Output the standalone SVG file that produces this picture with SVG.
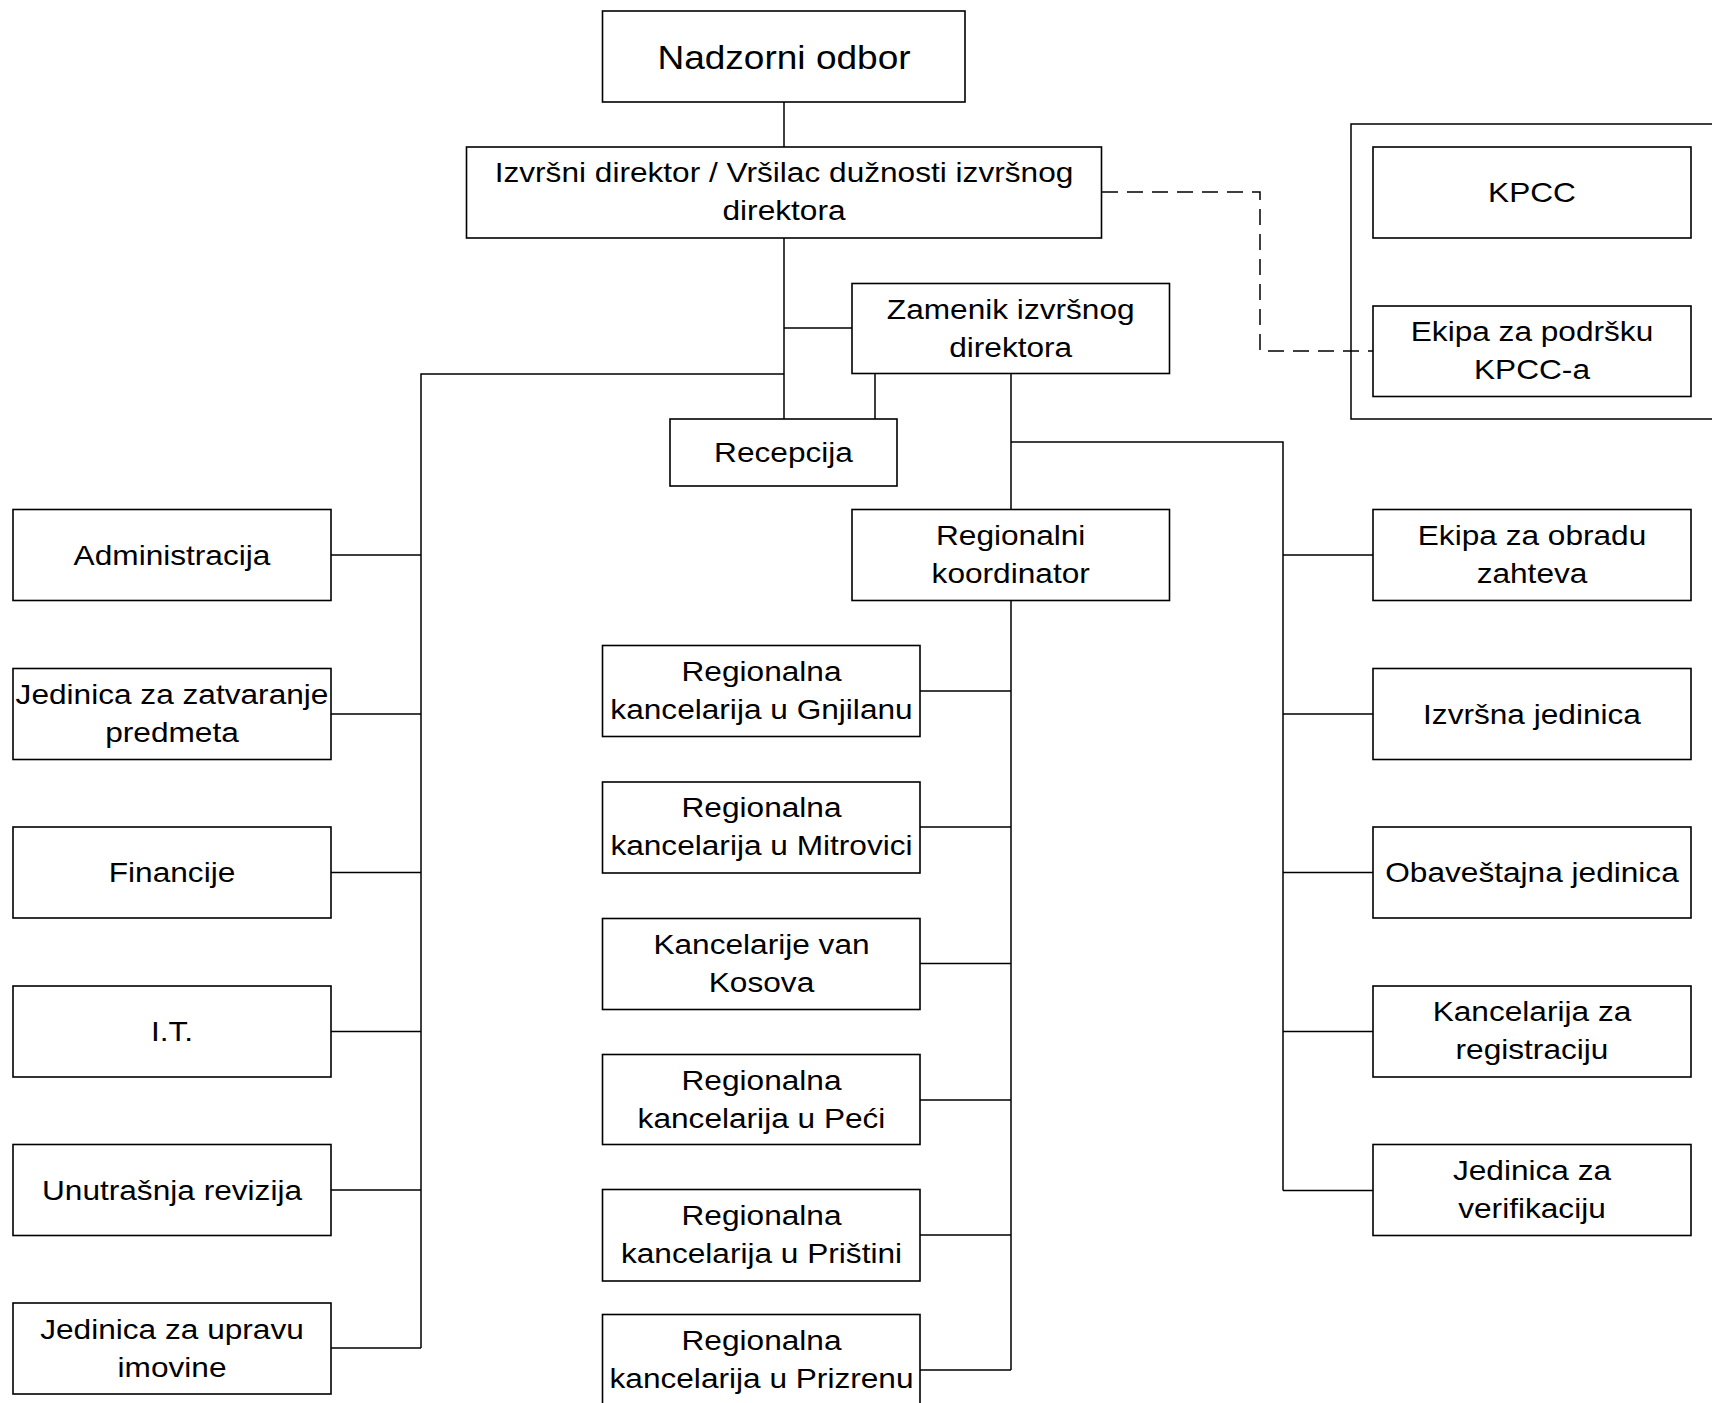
<svg xmlns="http://www.w3.org/2000/svg" width="1712" height="1403" viewBox="0 0 1712 1403">
<style>
.b{fill:#fff;stroke:#000;stroke-width:1.6}
.t{font-family:"Liberation Sans",Arial,sans-serif;font-size:27.5px;text-anchor:middle;fill:#000}
.tl{font-family:"Liberation Sans",Arial,sans-serif;font-size:32.5px;text-anchor:middle;fill:#000}
.c{fill:none;stroke:#000;stroke-width:1.5}
.d{fill:none;stroke:#000;stroke-width:1.5;stroke-dasharray:16 9}
</style>
<rect width="1712" height="1403" fill="#fff"/>
<g id="connectors">
<path class="c" d="M784 102V147M784 238V419M784 328H852M784 374H421V1348M875 373V419"/>
<path class="c" d="M331 555H421M331 714H421M331 872.5H421M331 1031.5H421M331 1190H421M331 1348H421"/>
<path class="c" d="M1011 373V509M1011 442H1283V1190.5M1283 555H1373M1283 714H1373M1283 872.5H1373M1283 1031.5H1373M1283 1190.5H1373"/>
<path class="c" d="M1011 601V1370M920 691H1011M920 827H1011M920 963.5H1011M920 1100H1011M920 1235H1011M920 1370H1011"/>
<path class="d" d="M1102 192H1260V351H1373"/>
</g>
<g id="kpcc-container"><path class="c" d="M1720 124H1351V419H1720"/></g>
<g id="nadzorni"><rect class="b" x="602.5" y="11" width="362.5" height="91"/><text class="tl" transform="translate(784 68.5) scale(1.14 1)">Nadzorni odbor</text></g>
<g id="izvrsni"><rect class="b" x="466.5" y="147" width="635" height="91"/><text class="t" transform="translate(784 182) scale(1.15 1)">Izvršni direktor / Vršilac dužnosti izvršnog</text><text class="t" transform="translate(784 220) scale(1.15 1)">direktora</text></g>
<g id="zamenik"><rect class="b" x="852" y="283.5" width="317.5" height="90"/><text class="t" transform="translate(1010.7 318.5) scale(1.15 1)">Zamenik izvršnog</text><text class="t" transform="translate(1010.7 356.5) scale(1.15 1)">direktora</text></g>
<g id="recepcija"><rect class="b" x="670" y="419" width="227" height="67"/><text class="t" transform="translate(783.5 462) scale(1.15 1)">Recepcija</text></g>
<g id="kpcc"><rect class="b" x="1373" y="147" width="318" height="91"/><text class="t" transform="translate(1532 202) scale(1.15 1)">KPCC</text></g>
<g id="ekipa-podrska"><rect class="b" x="1373" y="306" width="318" height="90.5"/><text class="t" transform="translate(1532 341) scale(1.15 1)">Ekipa za podršku</text><text class="t" transform="translate(1532 379) scale(1.15 1)">KPCC-a</text></g>
<g id="regionalni"><rect class="b" x="852" y="509.5" width="317.5" height="91"/><text class="t" transform="translate(1010.7 544.5) scale(1.15 1)">Regionalni</text><text class="t" transform="translate(1010.7 583) scale(1.15 1)">koordinator</text></g>
<g id="administracija"><rect class="b" x="13" y="509.5" width="318" height="91"/><text class="t" transform="translate(172 564.5) scale(1.15 1)">Administracija</text></g>
<g id="zatvaranje"><rect class="b" x="13" y="668.5" width="318" height="91"/><text class="t" transform="translate(172 704) scale(1.15 1)">Jedinica za zatvaranje</text><text class="t" transform="translate(172 742) scale(1.15 1)">predmeta</text></g>
<g id="financije"><rect class="b" x="13" y="827" width="318" height="91"/><text class="t" transform="translate(172 882) scale(1.15 1)">Financije</text></g>
<g id="it"><rect class="b" x="13" y="986" width="318" height="91"/><text class="t" transform="translate(172 1041) scale(1.15 1)">I.T.</text></g>
<g id="revizija"><rect class="b" x="13" y="1144.5" width="318" height="91"/><text class="t" transform="translate(172 1199.5) scale(1.15 1)">Unutrašnja revizija</text></g>
<g id="imovina"><rect class="b" x="13" y="1303" width="318" height="91"/><text class="t" transform="translate(172 1338.5) scale(1.15 1)">Jedinica za upravu</text><text class="t" transform="translate(172 1376.5) scale(1.15 1)">imovine</text></g>
<g id="gnjilane"><rect class="b" x="602.5" y="645.5" width="317.5" height="91"/><text class="t" transform="translate(761.5 681) scale(1.15 1)">Regionalna</text><text class="t" transform="translate(761.5 719) scale(1.15 1)">kancelarija u Gnjilanu</text></g>
<g id="mitrovica"><rect class="b" x="602.5" y="782" width="317.5" height="91"/><text class="t" transform="translate(761.5 817) scale(1.15 1)">Regionalna</text><text class="t" transform="translate(761.5 855) scale(1.15 1)">kancelarija u Mitrovici</text></g>
<g id="van-kosova"><rect class="b" x="602.5" y="918.5" width="317.5" height="91"/><text class="t" transform="translate(761.5 953.5) scale(1.15 1)">Kancelarije van</text><text class="t" transform="translate(761.5 991.5) scale(1.15 1)">Kosova</text></g>
<g id="pec"><rect class="b" x="602.5" y="1054.5" width="317.5" height="90"/><text class="t" transform="translate(761.5 1090) scale(1.15 1)">Regionalna</text><text class="t" transform="translate(761.5 1128) scale(1.15 1)">kancelarija u Peći</text></g>
<g id="pristina"><rect class="b" x="602.5" y="1189.5" width="317.5" height="91.5"/><text class="t" transform="translate(761.5 1225) scale(1.15 1)">Regionalna</text><text class="t" transform="translate(761.5 1263) scale(1.15 1)">kancelarija u Prištini</text></g>
<g id="prizren"><rect class="b" x="602.5" y="1314.5" width="317.5" height="95"/><text class="t" transform="translate(761.5 1349.5) scale(1.15 1)">Regionalna</text><text class="t" transform="translate(761.5 1387.5) scale(1.15 1)">kancelarija u Prizrenu</text></g>
<g id="obrada"><rect class="b" x="1373" y="509.5" width="318" height="91"/><text class="t" transform="translate(1532 544.5) scale(1.15 1)">Ekipa za obradu</text><text class="t" transform="translate(1532 583) scale(1.15 1)">zahteva</text></g>
<g id="izvrsna"><rect class="b" x="1373" y="668.5" width="318" height="91"/><text class="t" transform="translate(1532 723.5) scale(1.15 1)">Izvršna jedinica</text></g>
<g id="obavestajna"><rect class="b" x="1373" y="827" width="318" height="91"/><text class="t" transform="translate(1532 882) scale(1.15 1)">Obaveštajna jedinica</text></g>
<g id="registracija"><rect class="b" x="1373" y="986" width="318" height="91"/><text class="t" transform="translate(1532 1021) scale(1.15 1)">Kancelarija za</text><text class="t" transform="translate(1532 1059) scale(1.15 1)">registraciju</text></g>
<g id="verifikacija"><rect class="b" x="1373" y="1144.5" width="318" height="91"/><text class="t" transform="translate(1532 1180) scale(1.15 1)">Jedinica za</text><text class="t" transform="translate(1532 1218) scale(1.15 1)">verifikaciju</text></g>
</svg>
